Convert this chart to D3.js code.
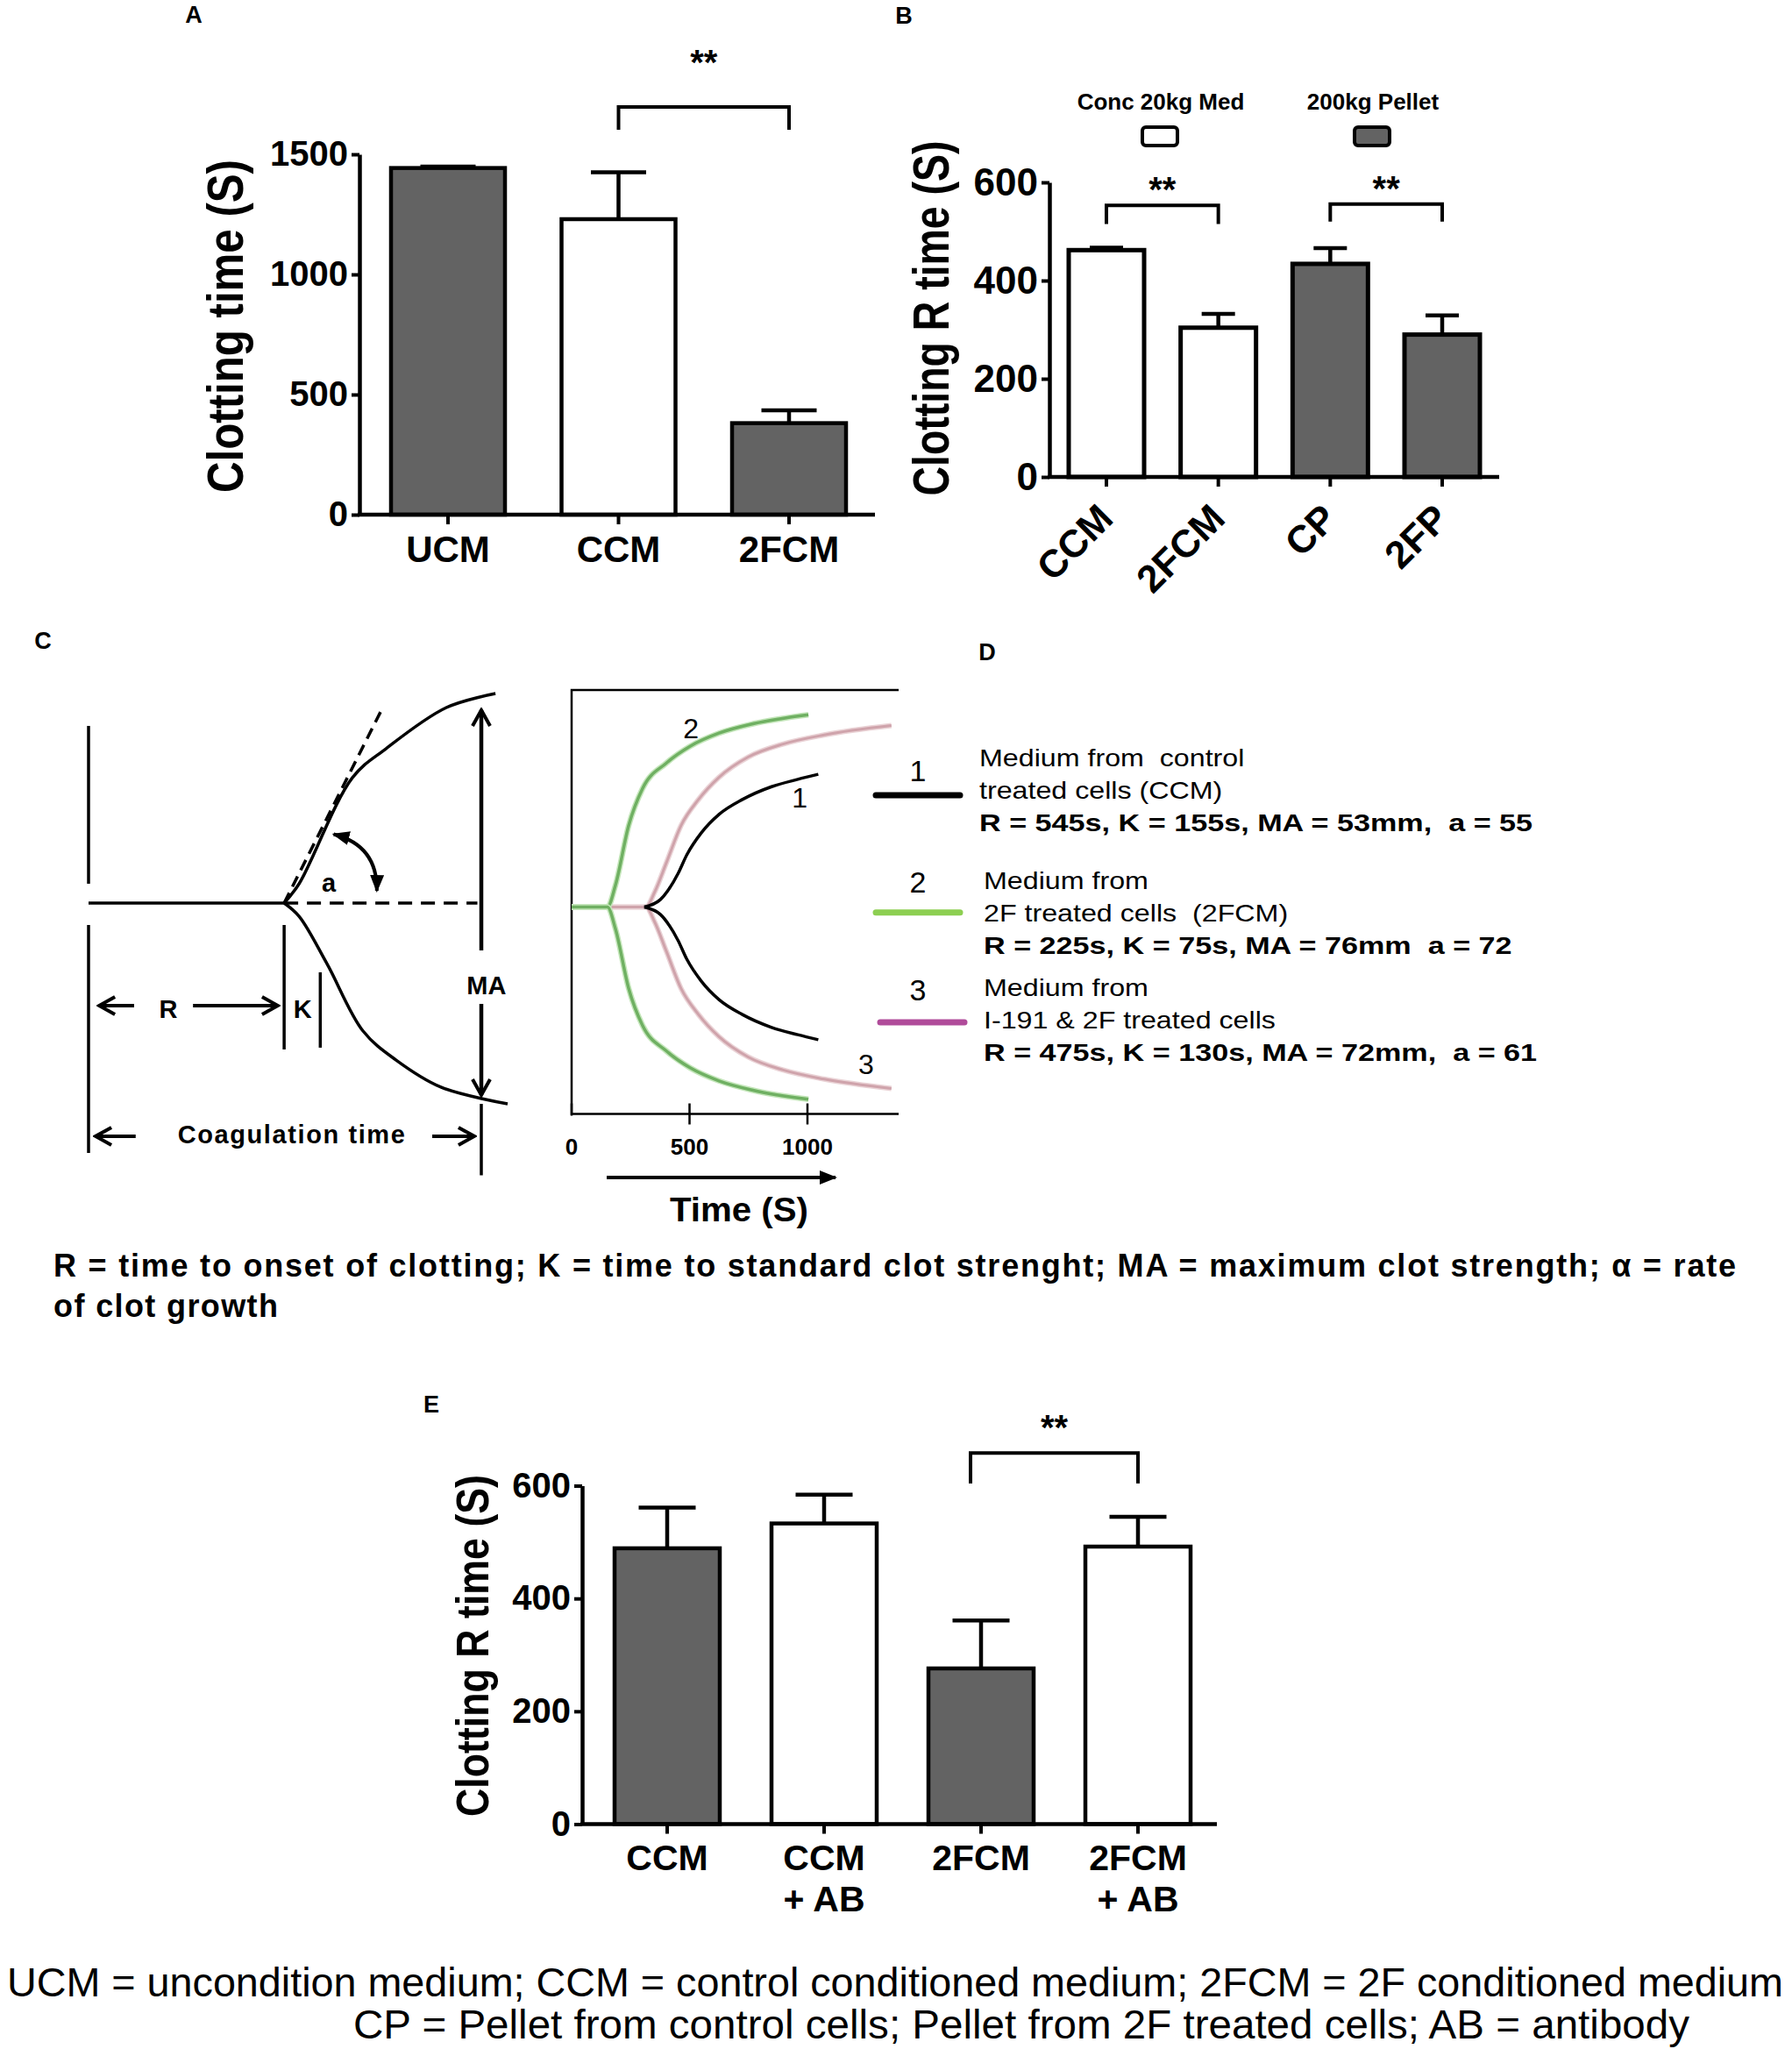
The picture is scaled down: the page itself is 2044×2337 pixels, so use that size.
<!DOCTYPE html>
<html>
<head>
<meta charset="utf-8">
<script src="https://cdn.jsdelivr.net/npm/d3@7"></script>
<style>
  body { margin: 0; background: #fff; }
  text { white-space: pre; }
</style>
</head>
<body>
<svg id="fig" width="2044" height="2337"></svg>
<script>
// ---- panel A: clotting time ----
var catsA = ["UCM", "CCM", "2FCM"];
var meanA = [1443, 1230, 381];
var semA = [6, 195, 53];
var ticksA = [0, 500, 1000, 1500];

// ---- panel B: clotting R time, medium vs pellet ----
var catsB = ["CCM", "2FCM", "CP", "2FP"];
var meanB = [462, 304, 434, 290];
var semB = [5, 28, 32, 39];
var groupB = ["Conc 20kg Med", "Conc 20kg Med", "200kg Pellet", "200kg Pellet"];
var ticksB = [0, 200, 400, 600];

// ---- panel E: clotting R time with antibody ----
var catsE = ["CCM", "CCM + AB", "2FCM", "2FCM + AB"];
var meanE = [489, 533, 276, 492];
var semE = [72, 51, 85, 53];
var ticksE = [0, 200, 400, 600];

// ---- panel C right: TEG traces (time s, amplitude mm) ----
var timeCCM = [308, 377, 414, 451, 488, 550, 625, 724, 848, 959, 1046];
var ampCCM  = [0, 3.0, 7.3, 13.2, 20.6, 29.4, 36.7, 42.6, 47.7, 50.6, 52.6];
var time2F  = [0, 152, 186, 242, 301, 401, 502, 625, 773, 1004];
var amp2F   = [0, 0, 8.7, 32.3, 47, 57, 63.7, 68.9, 72.7, 76.2];
var timeI   = [0, 315, 352, 402, 464, 538, 625, 748, 897, 1071, 1356];
var ampI    = [0, 0, 5.9, 17.6, 32.3, 42.6, 51.4, 59.4, 64.6, 68.2, 71.9];
var ticksTime = [0, 500, 1000];

// ---- panel C left: schematic trace (arbitrary units) ----
var schemUpT = [4.98, 5.36, 6.72, 7.57, 9.11, 10.36];
var schemUpA = [0, 0.98, 6.36, 7.82, 9.91, 10.62];
var schemLoT = [4.98, 5.36, 6.07, 6.99, 7.83, 8.97, 10.67];
var schemLoA = [0, -0.67, -3.07, -6.49, -7.96, -9.33, -10.18];

// ---- panel D legend ----
var legendNum = ["1", "2", "3"];
var legendLine1 = ["Medium from  control", "Medium from", "Medium from"];
var legendLine2 = ["treated cells (CCM)", "2F treated cells  (2FCM)", "I-191 & 2F treated cells"];
var legendStats = ["R = 545s, K = 155s, MA = 53mm,  a = 55",
                   "R = 225s, K = 75s, MA = 76mm  a = 72",
                   "R = 475s, K = 130s, MA = 72mm,  a = 61"];

var captionC = ["R = time to onset of clotting; K = time to standard clot strenght; MA = maximum clot strength; \u03b1 = rate",
                "of clot growth"];
var captionBottom = ["UCM = uncondition medium; CCM = control conditioned medium; 2FCM = 2F conditioned medium",
                     "CP = Pellet from control cells; Pellet from 2F treated cells; AB = antibody"];

var FONT = '"Liberation Sans", Arial, Helvetica, sans-serif';
var DARK = "#636363";

var svg = d3.select("#fig").attr("font-family", FONT);
svg.append("rect").attr("width", 2044).attr("height", 2337).attr("fill", "#fff");

var defs = svg.append("defs");
defs.append("marker").attr("id", "vhead").attr("viewBox", "0 0 24 24")
  .attr("refX", 21).attr("refY", 12).attr("markerWidth", 24).attr("markerHeight", 24)
  .attr("markerUnits", "userSpaceOnUse").attr("orient", "auto")
  .append("path").attr("d", "M3,2 L21,12 L3,22").attr("fill", "none")
  .attr("stroke", "#000").attr("stroke-width", 4);
defs.append("marker").attr("id", "tri").attr("viewBox", "0 0 20 16")
  .attr("refX", 18).attr("refY", 8).attr("markerWidth", 20).attr("markerHeight", 16)
  .attr("markerUnits", "userSpaceOnUse").attr("orient", "auto-start-reverse")
  .append("path").attr("d", "M0,0 L20,8 L0,16 Z").attr("fill", "#000");

function panelLabel(t, x, y) {
  svg.append("text").attr("x", x).attr("y", y).attr("text-anchor", "middle")
    .attr("font-size", 27).attr("font-weight", "bold").text(t);
}

// stretch a text to a factor of its natural width (the source figure uses widened type)
function widen(sel, factor) {
  sel.each(function() {
    var w = this.getComputedTextLength();
    d3.select(this).attr("textLength", w * factor).attr("lengthAdjust", "spacingAndGlyphs");
  });
}

function drawBars(cfg) {
  var g = svg.append("g");
  var x = d3.scalePoint().domain(cfg.cats).range(cfg.centers);
  var y = d3.scaleLinear().domain([0, cfg.max]).range([cfg.bottom, cfg.top]);
  var fill = d3.scaleOrdinal().domain(cfg.cats).range(cfg.fills);
  var rows = cfg.cats.map(function(c, i) { return {cat: c, mean: cfg.means[i], sem: cfg.sems[i]}; });

  g.selectAll(".err").data(rows).enter().append("path")
    .attr("d", function(d) {
      var cx = x(d.cat), yt = y(d.mean + d.sem);
      return "M" + cx + "," + y(d.mean) + "V" + yt +
             "M" + (cx - cfg.capW / 2) + "," + yt + "H" + (cx + cfg.capW / 2);
    })
    .attr("fill", "none").attr("stroke", "#000").attr("stroke-width", 4.5);

  g.selectAll(".bar").data(rows).enter().append("rect")
    .attr("x", function(d) { return x(d.cat) - cfg.barW / 2; })
    .attr("y", function(d) { return y(d.mean); })
    .attr("width", cfg.barW)
    .attr("height", function(d) { return y(0) - y(d.mean); })
    .attr("fill", function(d) { return fill(d.cat); })
    .attr("stroke", "#000").attr("stroke-width", cfg.sw);

  var ya = g.append("g").attr("transform", "translate(" + cfg.axisX + ",0)")
    .call(d3.axisLeft(y).tickValues(cfg.ticks).tickSize(9).tickSizeOuter(0)
      .tickPadding(4).tickFormat(d3.format("d")));
  ya.attr("font-family", FONT);
  ya.select(".domain").attr("stroke-width", 4.5);
  ya.selectAll(".tick line").attr("stroke-width", 4);
  ya.selectAll(".tick text").attr("font-size", cfg.tickFont).attr("font-weight", "bold").attr("fill", "#000");

  g.append("line").attr("x1", cfg.axisX - 2).attr("x2", cfg.axisEnd)
    .attr("y1", y(0)).attr("y2", y(0)).attr("stroke", "#000").attr("stroke-width", 4.5);
  g.selectAll(".xt").data(cfg.cats).enter().append("line")
    .attr("x1", x).attr("x2", x).attr("y1", y(0)).attr("y2", y(0) + 11)
    .attr("stroke", "#000").attr("stroke-width", 4);

  g.append("text")
    .attr("transform", "translate(" + cfg.yLabelX + "," + cfg.yLabelY + ") rotate(-90)")
    .attr("text-anchor", "middle").attr("font-size", cfg.yLabelFont).attr("font-weight", "bold")
    .attr("textLength", cfg.yLabelLen).attr("lengthAdjust", "spacingAndGlyphs")
    .text(cfg.yLabel);

  (cfg.sig || []).forEach(function(s) {
    var xa = x(s.a) - (s.inset || 0), xb = x(s.b);
    g.append("path")
      .attr("d", "M" + xa + "," + y(s.drop) + "V" + y(s.top) + "H" + xb + "V" + y(s.drop))
      .attr("fill", "none").attr("stroke", "#000").attr("stroke-width", 4);
    g.append("text").attr("x", (xa + xb) / 2).attr("y", y(s.top) - cfg.starGap)
      .attr("text-anchor", "middle").attr("font-size", 40).attr("font-weight", "bold").text("**");
  });
  return {x: x, y: y, g: g};
}

// ---------------- Panel A ----------------
panelLabel("A", 221, 26);
var pA = drawBars({
  cats: catsA, means: meanA, sems: semA, fills: [DARK, "#fff", DARK],
  centers: [511, 900], max: 1500, bottom: 587, top: 176, ticks: ticksA,
  axisX: 410, axisEnd: 998, barW: 130, capW: 63, sw: 4.5, tickFont: 40,
  yLabel: "Clotting time (S)", yLabelX: 277, yLabelY: 372, yLabelFont: 58, yLabelLen: 380,
  sig: [{a: "CCM", b: "2FCM", top: 1697, drop: 1602}], starGap: 37
});
pA.g.selectAll(".xl").data(catsA).enter().append("text")
  .attr("x", pA.x).attr("y", 641).attr("text-anchor", "middle")
  .attr("font-size", 42).attr("font-weight", "bold").text(function(d) { return d; });

// ---------------- Panel B ----------------
panelLabel("B", 1031, 27);
var pB = drawBars({
  cats: catsB, means: meanB, sems: semB, fills: [ "#fff", "#fff", DARK, DARK],
  centers: [1262, 1645], max: 600, bottom: 544, top: 208, ticks: ticksB,
  axisX: 1197, axisEnd: 1710, barW: 86, capW: 38, sw: 5, tickFont: 44,
  yLabel: "Clotting R time (S)", yLabelX: 1082, yLabelY: 363, yLabelFont: 58, yLabelLen: 405,
  sig: [{a: "CCM", b: "2FCM", top: 553, drop: 515}, {a: "CP", b: "2FP", top: 556, drop: 520}],
  starGap: 4
});
pB.g.selectAll(".xl").data(catsB).enter().append("text")
  .attr("transform", function(d) { return "translate(" + (pB.x(d) - 1) + ",583) rotate(-45)"; })
  .attr("dy", "0.35em").attr("text-anchor", "end")
  .attr("font-size", 44).attr("font-weight", "bold").text(function(d) { return d; });

// legend for B, one entry per group
var groupsB = Array.from(new Set(groupB));
var legX = d3.scalePoint().domain(groupsB).range([1324, 1566]);
var legFill = d3.scaleOrdinal().domain(groupsB).range(["#fff", DARK]);
var lg = pB.g.selectAll(".lg").data(groupsB).enter().append("g");
lg.append("text").attr("x", legX).attr("y", 124.5).attr("text-anchor", "middle")
  .attr("font-size", 26).attr("font-weight", "bold").text(function(d) { return d; });
lg.append("rect").attr("x", function(d) { return legX(d) - 21; }).attr("y", 145)
  .attr("width", 40).attr("height", 21).attr("rx", 4)
  .attr("fill", legFill).attr("stroke", "#000").attr("stroke-width", 4);

// ---------------- Panel C (left schematic) ----------------
panelLabel("C", 49, 740);
var sx = d3.scaleLinear().domain([0, 10]).range([101, 549]);
var sy = d3.scaleLinear().domain([0, 1]).range([1030, 1007.5]);
var cg = svg.append("g").attr("fill", "none").attr("stroke", "#000");
function seg(t1, a1, t2, a2, w, extra) {
  var l = cg.append("line").attr("x1", sx(t1)).attr("y1", sy(a1)).attr("x2", sx(t2)).attr("y2", sy(a2))
    .attr("stroke-width", w);
  if (extra) extra(l);
  return l;
}
var schemLine = d3.line().x(function(d) { return sx(d[0]); }).y(function(d) { return sy(d[1]); })
  .curve(d3.curveCatmullRom);
cg.append("path").attr("d", schemLine(d3.zip(schemUpT, schemUpA))).attr("stroke-width", 3.5);
cg.append("path").attr("d", schemLine(d3.zip(schemLoT, schemLoA))).attr("stroke-width", 3.5);
seg(0, 8.98, 0, 0.98, 3.5);
seg(0, -1.11, 0, -12.67, 3.5);
seg(0, 0, schemUpT[0], 0, 3.5);
seg(schemUpT[0], 0, 9.9, 0, 3.5, function(l) { l.attr("stroke-dasharray", "16 10"); });
seg(schemUpT[0], 0, 7.48, 9.87, 3.5, function(l) { l.attr("stroke-dasharray", "13 8"); });
seg(schemUpT[0], -1.11, schemUpT[0], -7.42, 3.5);
seg(5.9, -3.51, 5.9, -7.33, 3.5);
seg(10, -2.4, 10, 9.78, 4.5, function(l) { l.attr("marker-end", "url(#vhead)"); });
seg(10, -5.11, 10, -9.73, 4.5, function(l) { l.attr("marker-end", "url(#vhead)"); });
seg(10, -10.18, 10, -13.8, 3.5);
seg(1.16, -5.2, 0.27, -5.2, 4, function(l) { l.attr("marker-end", "url(#vhead)"); });
seg(2.66, -5.2, 4.82, -5.2, 4, function(l) { l.attr("marker-end", "url(#vhead)"); });
seg(1.2, -11.82, 0.18, -11.82, 4, function(l) { l.attr("marker-end", "url(#vhead)"); });
seg(8.75, -11.82, 9.82, -11.82, 4, function(l) { l.attr("marker-end", "url(#vhead)"); });
cg.append("path")
  .attr("d", "M" + sx(6.24) + "," + sy(3.49) + " Q" + sx(7.36) + "," + sy(2.92) + " " + sx(7.34) + "," + sy(0.62))
  .attr("stroke-width", 4).attr("marker-start", "url(#tri)").attr("marker-end", "url(#tri)");

var schemText = [["R", 2.03, -5.38], ["K", 5.45, -5.38], ["MA", 10.13, -4.18], ["a", 6.12, 1.02],
                 ["Coagulation time", 5.18, -11.73]];
svg.selectAll(".st").data(schemText).enter().append("text")
  .attr("x", function(d) { return sx(d[1]); }).attr("y", function(d) { return sy(d[2]) + 10; })
  .attr("text-anchor", "middle").attr("font-size", 29).attr("font-weight", "bold")
  .attr("letter-spacing", function(d) { return d[0].length > 3 ? 1.6 : 0; })
  .text(function(d) { return d[0]; });

// ---------------- Panel C (right, TEG traces) ----------------
var tx = d3.scaleLinear().domain([0, 1000]).range([652, 921]);
var ty = d3.scaleLinear().domain([-41, 43]).range([1270.5, 787]);
var rg = svg.append("g");
rg.append("path").attr("d", "M1025," + ty(43) + "H" + tx(0) + "V" + ty(-41) + "H1025")
  .attr("fill", "none").attr("stroke", "#000").attr("stroke-width", 2.5);
rg.selectAll(".tt").data(ticksTime).enter().append("line")
  .attr("x1", tx).attr("x2", tx)
  .attr("y1", ty(-41) - 12).attr("y2", function(d) { return d === 0 ? ty(-41) + 2 : ty(-41) + 12; })
  .attr("stroke", "#000").attr("stroke-width", 2.5);
rg.selectAll(".tl").data(ticksTime).enter().append("text")
  .attr("x", tx).attr("y", 1317).attr("text-anchor", "middle")
  .attr("font-size", 26).attr("font-weight", "bold").text(function(d) { return d; });
rg.append("line").attr("x1", 692).attr("x2", 953).attr("y1", 1343).attr("y2", 1343)
  .attr("stroke", "#000").attr("stroke-width", 4).attr("marker-end", "url(#tri)");
rg.append("text").attr("x", 843).attr("y", 1393).attr("text-anchor", "middle")
  .attr("font-size", 38).attr("font-weight", "bold").attr("textLength", 158)
  .attr("lengthAdjust", "spacingAndGlyphs").text("Time (S)");

function trace(times, amps, sign) {
  return d3.line().x(function(d) { return tx(d[0]); })
    .y(function(d) { return ty(sign * d[1] / 2); })
    .curve(d3.curveMonotoneX)(d3.zip(times, amps));
}
var traces = [
  {t: timeI, a: ampI, halo: "#ead3d6", core: "#cfa3ab", w: 3},
  {t: time2F, a: amp2F, halo: "#c4e6ba", core: "#6fb062", w: 3.5},
  {t: timeCCM, a: ampCCM, halo: null, core: "#000", w: 3.5}
];
traces.forEach(function(tr) {
  [1, -1].forEach(function(s) {
    if (tr.halo) rg.append("path").attr("d", trace(tr.t, tr.a, s)).attr("fill", "none")
      .attr("stroke", tr.halo).attr("stroke-width", tr.w + 3);
    rg.append("path").attr("d", trace(tr.t, tr.a, s)).attr("fill", "none")
      .attr("stroke", tr.core).attr("stroke-width", tr.w);
  });
});
var traceLabels = [["2", 506, 35.3], ["1", 967, 21.7], ["3", 1249, -31.2]];
rg.selectAll(".tlab").data(traceLabels).enter().append("text")
  .attr("x", function(d) { return tx(d[1]); }).attr("y", function(d) { return ty(d[2]) + 11; })
  .attr("text-anchor", "middle").attr("font-size", 32).text(function(d) { return d[0]; });

// ---------------- Panel D legend ----------------
panelLabel("D", 1126, 753);
var legColor = ["#000", "#8dcf52", "#b04b9a"];
var legTop = [874, 1013.6, 1135.6];       // baseline of first text line
var legLineY = [907, 1040.7, 1166];
var legNumY = [891, 1018, 1141];
var legTextX = [1117, 1122, 1122];
var dg = svg.append("g");
legendNum.forEach(function(n, i) {
  dg.append("text").attr("x", 1047).attr("y", legNumY[i]).attr("text-anchor", "middle")
    .attr("font-size", 34).text(n);
  dg.append("line").attr("x1", 999 + (i === 2 ? 5 : 0)).attr("x2", 1095 + (i === 2 ? 5 : 0))
    .attr("y1", legLineY[i]).attr("y2", legLineY[i])
    .attr("stroke", legColor[i]).attr("stroke-width", 7).attr("stroke-linecap", "round");
  widen(dg.append("text").attr("x", legTextX[i]).attr("y", legTop[i]).attr("font-size", 28)
    .text(legendLine1[i]), 1.15);
  widen(dg.append("text").attr("x", legTextX[i]).attr("y", legTop[i] + 37).attr("font-size", 28)
    .text(legendLine2[i]), 1.15);
  widen(dg.append("text").attr("x", legTextX[i]).attr("y", legTop[i] + 74).attr("font-size", 28)
    .attr("font-weight", "bold").text(legendStats[i]), 1.22);
});

// ---------------- caption under C ----------------
svg.append("text").attr("x", 61).attr("y", 1456).attr("font-size", 36).attr("font-weight", "bold")
  .attr("textLength", 1919).attr("lengthAdjust", "spacing").text(captionC[0]);
svg.append("text").attr("x", 61).attr("y", 1502).attr("font-size", 36).attr("font-weight", "bold")
  .attr("textLength", 256).attr("lengthAdjust", "spacing").text(captionC[1]);

// ---------------- Panel E ----------------
panelLabel("E", 492, 1611);
var pE = drawBars({
  cats: catsE, means: meanE, sems: semE, fills: [DARK, "#fff", DARK, "#fff"],
  centers: [761, 1298], max: 600, bottom: 2080.5, top: 1694.5, ticks: ticksE,
  axisX: 664, axisEnd: 1388, barW: 120, capW: 65, sw: 4.5, tickFont: 40,
  yLabel: "Clotting R time (S)", yLabelX: 557, yLabelY: 1877, yLabelFont: 52, yLabelLen: 390,
  sig: [{a: "2FCM", b: "2FCM + AB", top: 658, drop: 604, inset: 12}], starGap: 15
});
var xlE = pE.g.selectAll(".xl").data(catsE).enter().append("text")
  .attr("text-anchor", "middle").attr("font-size", 41).attr("font-weight", "bold");
xlE.append("tspan").attr("x", pE.x).attr("y", 2133)
  .text(function(d) { return d.split(" + ")[0]; });
xlE.filter(function(d) { return d.indexOf(" + ") > 0; }).append("tspan")
  .attr("x", pE.x).attr("y", 2180).text(function(d) { return "+ " + d.split(" + ")[1]; });

// ---------------- bottom caption ----------------
svg.append("text").attr("x", 8).attr("y", 2277).attr("font-size", 46)
  .attr("textLength", 2026).attr("lengthAdjust", "spacingAndGlyphs").text(captionBottom[0]);
svg.append("text").attr("x", 403).attr("y", 2325).attr("font-size", 46)
  .attr("textLength", 1524).attr("lengthAdjust", "spacingAndGlyphs").text(captionBottom[1]);
</script>
</body>
</html>
